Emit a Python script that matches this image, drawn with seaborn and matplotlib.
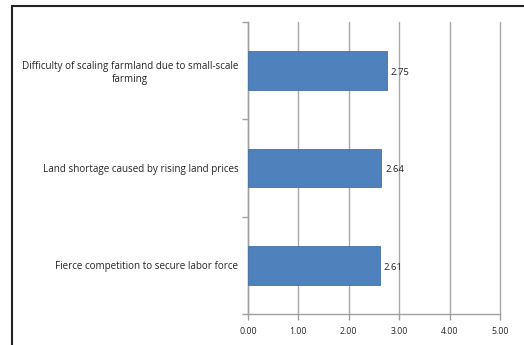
import matplotlib
matplotlib.use("Agg")
import matplotlib.pyplot as plt
import seaborn as sns
import pandas as pd
from matplotlib.patches import Rectangle

categories = ["Difficulty of scaling farmland due to small-scale\nfarming",
              "Land shortage caused by rising land prices",
              "Fierce competition to secure labor force"]
values = [2.75, 2.64, 2.61]
xticks = [0, 1, 2, 3, 4, 5]
xtick_labels = ["0.00", "1.00", "2.00", "3.00", "4.00", "5.00"]

sns.set_style("white")
plt.rcParams['font.family'] = ['Open Sans', 'DejaVu Sans']

df = pd.DataFrame({"cat": categories, "val": values})

fig = plt.figure(figsize=(5.24, 3.45), dpi=100)
ax = fig.add_axes([248/524, 1 - 314/345, (500-248)/524, (314-22)/345])

sns.barplot(data=df, y="cat", x="val", ax=ax, color="#4F81BD", width=0.4,
            saturation=1, edgecolor="#4572A7", linewidth=0.6, zorder=3)

ax.set_xlim(0, 5)
ax.set_ylim(2.5, -0.5)
ax.set_xticks(xticks)
ax.set_xticklabels(xtick_labels, fontsize=6.3)
ax.set_yticks(range(len(categories)))
ax.set_yticklabels(categories, fontsize=7.1)
for lab in ax.get_yticklabels():
    lab.set_multialignment("center")
ax.tick_params(axis="y", which="major", left=True, length=0, pad=7)
ax.set_yticks([-0.5, 0.5, 1.5, 2.5], minor=True)
ax.tick_params(axis="y", which="minor", left=True, length=4, width=1, color="#A0A0A0", direction="out")
ax.tick_params(axis="x", bottom=True, length=4, width=1, color="#A0A0A0", direction="out", pad=5)
ax.set_xlabel("")
ax.set_ylabel("")

ax.grid(axis="x", color="#A8A8A8", linewidth=1, zorder=0)
for gl in ax.get_xgridlines():
    gl.set_clip_on(False)
ax.set_axisbelow(True)
for s in ["top", "right"]:
    ax.spines[s].set_visible(False)
for s in ["left", "bottom"]:
    ax.spines[s].set_color("#A0A0A0")
    ax.spines[s].set_linewidth(1)

for i, v in enumerate(values):
    ax.text(v + 0.08, i + 0.02, f"{v:.2f}", va="center", ha="left", fontsize=6.8, color="#222222")

fig.patches.append(Rectangle((12/524, -0.1), 1.2, 1 - 6/345 + 0.1, transform=fig.transFigure,
                             fill=False, edgecolor="#222222", linewidth=1.5))

fig.savefig("out.png", dpi=100)
